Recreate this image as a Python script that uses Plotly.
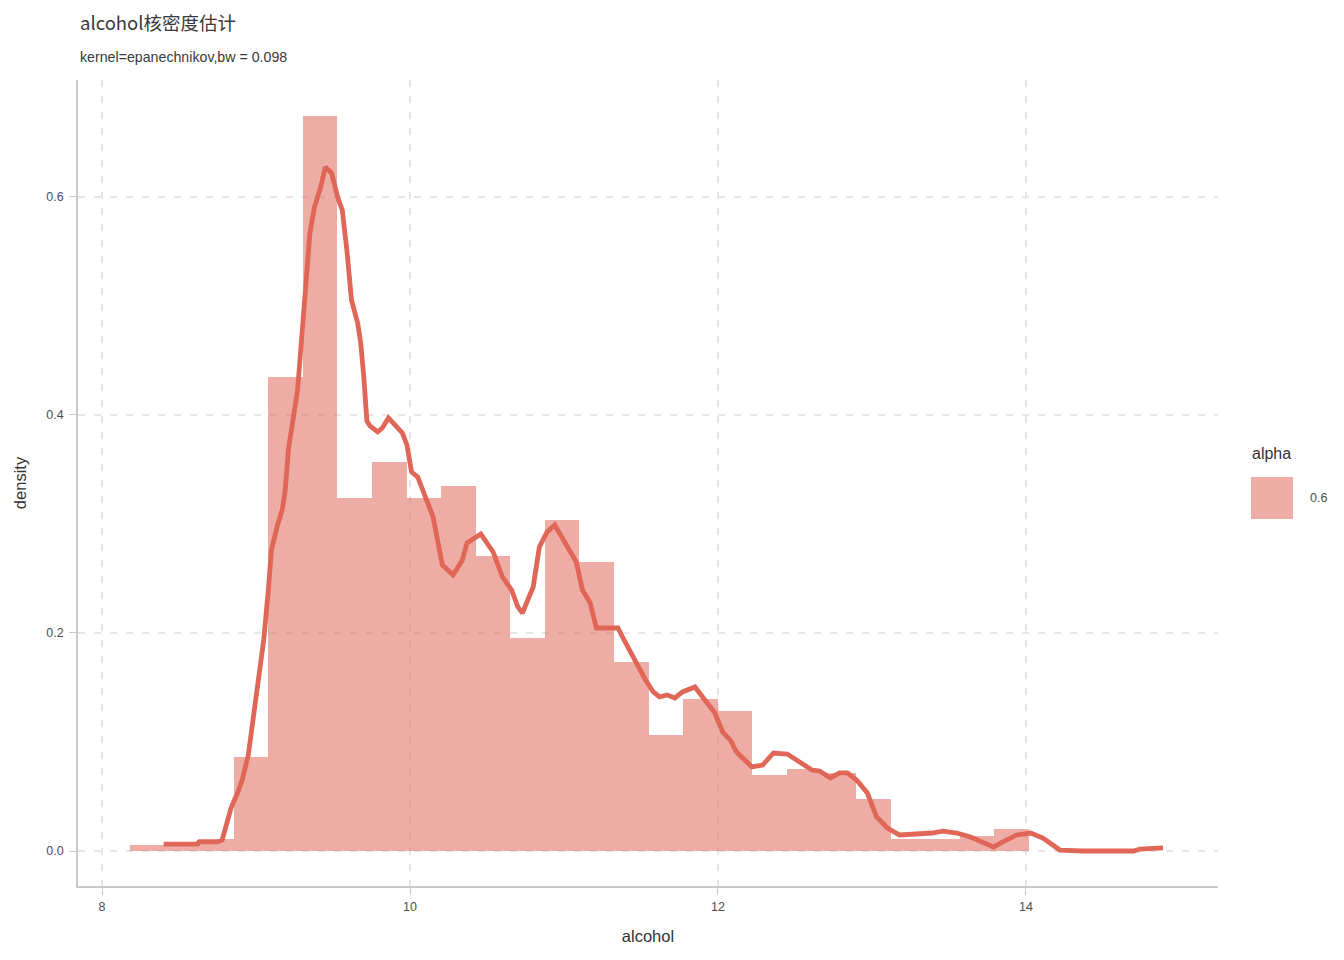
import plotly.graph_objects as go

# ---- data ----
bin_left = 8.182
bin_width = 0.2245
hist_density = [0.0055, 0.0055, 0.011, 0.086, 0.435, 0.674, 0.324, 0.357, 0.324, 0.335,
                0.271, 0.195, 0.304, 0.265, 0.173, 0.106, 0.139, 0.128, 0.070, 0.075,
                0.072, 0.048, 0.011, 0.011, 0.014, 0.020]

kde_x = [8.40, 8.62, 8.63, 8.75, 8.78, 8.81, 8.84, 8.88, 8.91, 8.95,
         8.98, 9.01, 9.05, 9.08, 9.10, 9.14, 9.17, 9.19, 9.21, 9.27,
         9.29, 9.31, 9.33, 9.35, 9.38, 9.42, 9.45, 9.49, 9.53, 9.56,
         9.59, 9.62, 9.66, 9.68, 9.70, 9.72, 9.74, 9.79, 9.82, 9.86,
         9.89, 9.95, 9.98, 10.01, 10.05, 10.11, 10.15, 10.21, 10.28, 10.34,
         10.37, 10.46, 10.54, 10.60, 10.66, 10.70, 10.73, 10.77, 10.80, 10.84,
         10.89, 10.94, 10.97, 11.02, 11.08, 11.12, 11.17, 11.21, 11.28, 11.35,
         11.38, 11.43, 11.47, 11.53, 11.58, 11.62, 11.67, 11.72, 11.77, 11.85,
         11.93, 11.98, 12.03, 12.08, 12.12, 12.22, 12.29, 12.36, 12.45, 12.53,
         12.61, 12.66, 12.73, 12.79, 12.84, 12.90, 12.97, 13.03, 13.10, 13.18,
         13.29, 13.39, 13.46, 13.55, 13.64, 13.72, 13.79, 13.85, 13.94, 14.03,
         14.11, 14.22, 14.37, 14.70, 14.74, 14.89]
kde_y = [0.0064, 0.0064, 0.0083, 0.0083, 0.0101, 0.0257, 0.0404, 0.0532, 0.0651, 0.0881,
         0.1202, 0.1569, 0.1936, 0.2394, 0.2761, 0.2991, 0.3128, 0.3312, 0.3679, 0.4229,
         0.4569, 0.4991, 0.5303, 0.5670, 0.5908, 0.6092, 0.6275, 0.6220, 0.6000, 0.5881,
         0.5514, 0.5055, 0.4844, 0.4661, 0.4349, 0.3945, 0.3899, 0.3844, 0.3881, 0.3972,
         0.3927, 0.3835, 0.3725, 0.3477, 0.3431, 0.3193, 0.3064, 0.2624, 0.2532, 0.2670,
         0.2826, 0.2908, 0.2743, 0.2514, 0.2394, 0.2239, 0.2183, 0.2321, 0.2422, 0.2789,
         0.2927, 0.2991, 0.2917, 0.2780, 0.2651, 0.2394, 0.2275, 0.2046, 0.2046, 0.2046,
         0.1963, 0.1817, 0.1725, 0.1569, 0.1459, 0.1413, 0.1431, 0.1404, 0.1459, 0.1505,
         0.1367, 0.1266, 0.1092, 0.1018, 0.0908, 0.0771, 0.0789, 0.0899, 0.0890, 0.0817,
         0.0743, 0.0734, 0.0670, 0.0716, 0.0716, 0.0651, 0.0532, 0.0312, 0.0211, 0.0147,
         0.0156, 0.0165, 0.0183, 0.0165, 0.0128, 0.0073, 0.0037, 0.0083, 0.0147, 0.0165,
         0.0119, 0.0009, 0.0, 0.0, 0.0018, 0.0028]

x_ticks = [8, 10, 12, 14]
x_tick_labels = ["8", "10", "12", "14"]
y_ticks = [0.0, 0.2, 0.4, 0.6]
y_tick_labels = ["0.0", "0.2", "0.4", "0.6"]

title_text = "alcohol核密度估计"
subtitle_text = "kernel=epanechnikov,bw = 0.098"
legend_title = "alpha"
legend_label = "0.6"

# ---- style ----
LINE_COLOR = "rgb(224,102,88)"
FILL_COLOR = "rgba(222,104,90,0.55)"
GRID = "#e6e6e6"
AXIS = "#c9c9c9"
TXT = "#4d4d4d"

centers = [bin_left + bin_width * (i + 0.5) for i in range(len(hist_density))]

fig = go.Figure()
fig.add_trace(go.Bar(x=centers, y=hist_density, width=bin_width,
                     marker=dict(color=FILL_COLOR, line=dict(width=0)),
                     showlegend=False, hoverinfo="x+y"))
fig.add_trace(go.Scatter(x=kde_x, y=kde_y, mode="lines",
                         line=dict(color=LINE_COLOR, width=4.8),
                         showlegend=False))

axis_common = dict(showgrid=True, gridcolor=GRID, gridwidth=2, griddash="7px,9px",
                   zeroline=False, showline=True, linecolor=AXIS, linewidth=1.5,
                   ticks="outside", ticklen=7, tickcolor=AXIS, tickwidth=1.2,
                   automargin=False,
                   tickfont=dict(family="Liberation Sans, Arial", size=12.5, color=TXT),
                   title_font=dict(family="Liberation Sans, Arial", size=16.5, color="#333333"))

fig.update_xaxes(range=[7.844, 15.247], tickvals=x_ticks, ticktext=x_tick_labels,
                 ticklabelstandoff=1,
                 title_text="alcohol", title_standoff=18, **axis_common)
fig.update_yaxes(range=[-0.0321, 0.7073], tickvals=y_ticks, ticktext=y_tick_labels,
                 ticklabelstandoff=3,
                 title_text="density", title_standoff=16, **axis_common)

fig.update_layout(
    width=1336, height=952,
    margin=dict(l=70, r=126, t=72, b=74),
    plot_bgcolor="white", paper_bgcolor="white",
    bargap=0, showlegend=False,
    annotations=[
        dict(text=title_text, xref="paper", yref="paper", x=0, y=1.072,
             xanchor="left", yanchor="middle", showarrow=False,
             font=dict(family="Noto Sans CJK SC", size=18.5, color="#3a3a3a")),
        dict(text=subtitle_text, xref="paper", yref="paper", x=0, y=1.0285,
             xanchor="left", yanchor="middle", showarrow=False,
             font=dict(family="Liberation Sans, Arial", size=14.2, color="#3a3a3a")),
        dict(text=legend_title, xref="paper", yref="paper", x=1.0281, y=0.5372,
             xanchor="left", yanchor="middle", showarrow=False,
             font=dict(family="Liberation Sans, Arial", size=16, color="#333333")),
        dict(text=legend_label, xref="paper", yref="paper", x=1.0789, y=0.4814,
             xanchor="left", yanchor="middle", showarrow=False,
             font=dict(family="Liberation Sans, Arial", size=12.5, color=TXT)),
    ],
    shapes=[
        dict(type="rect", xref="paper", yref="paper", x0=1.0289, x1=1.0658,
             y0=0.4553, y1=0.5074, fillcolor=FILL_COLOR, line=dict(width=0)),
    ],
)

fig.write_html("out.html")
